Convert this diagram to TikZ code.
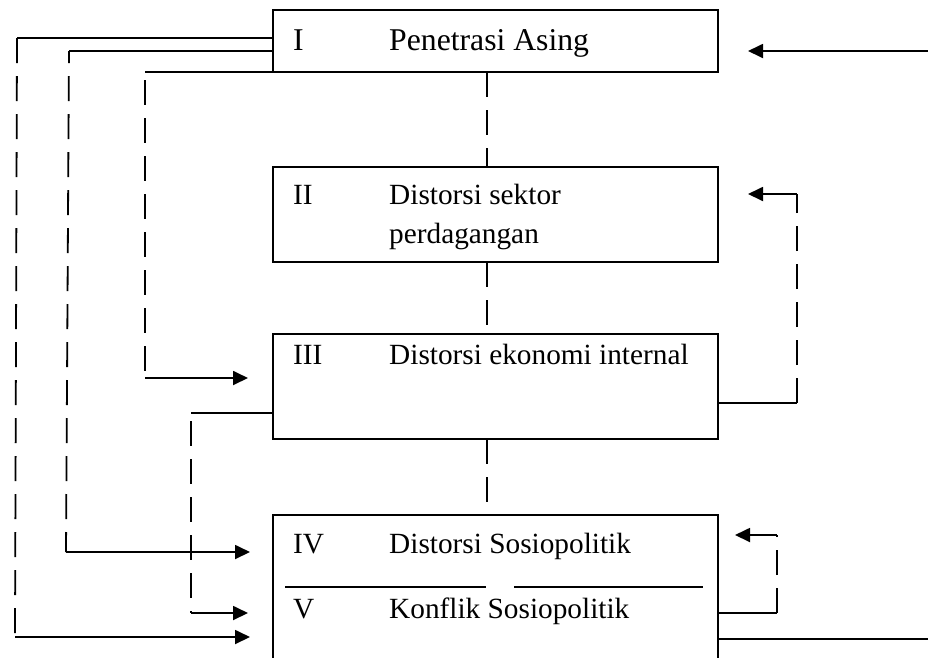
\documentclass[tikz,border=0pt]{standalone}
\usepackage{fontspec}
\setmainfont{Liberation Serif}
\usetikzlibrary{arrows.meta}
\begin{document}
\begin{tikzpicture}[x=1pt,y=-1pt,
  box/.style={draw, line width=1.6pt, anchor=north west, inner sep=0pt, outer sep=0pt, minimum width=445pt},
  lbl/.style={anchor=base west, inner sep=0pt, font=\fontsize{29.3}{35}\selectfont},
  ttl/.style={anchor=base west, inner sep=0pt, font=\fontsize{31.7}{38}\selectfont},
  ln/.style={line width=1.8pt},
  dsh/.style={line width=1.8pt, dash pattern=on 25pt off 13pt},
  arr/.style={line width=1.8pt, -{Triangle[length=15pt,width=14pt]}}]
\useasboundingbox (0,0) rectangle (928,657);
\clip (0,0) rectangle (928,657);
\fill[white] (0,0) rectangle (928,657);
% boxes
\node[box, minimum height=62pt] (b1) at (273,10) {};
\node[box, minimum height=95pt] (b2) at (273,167) {};
\node[box, minimum height=105pt] (b3) at (273,334) {};
\node[box, minimum height=170pt] (b4) at (273,515) {};
% labels
\node[ttl] (n1) at (293,50) {I};
\node[ttl] (t1) at (389,50) {Penetrasi Asing};
\node[lbl] (n2) at (293,204) {II};
\node[lbl] (t2) at (389,204) {Distorsi sektor};
\node[lbl] (t2b) at (389,243) {perdagangan};
\node[lbl] (n3) at (293,364) {III};
\node[lbl] (t3) at (389,364) {Distorsi ekonomi internal};
\node[lbl] (n4) at (293,553) {IV};
\node[lbl] (t4) at (389,553) {Distorsi Sosiopolitik};
\node[lbl] (n5) at (293,618) {V};
\node[lbl] (t5) at (389,618) {Konflik Sosiopolitik};
% separator in box IV/V
\coordinate (s1) at (285,587); \coordinate (s2) at (486,587);
\coordinate (s3) at (514,587); \coordinate (s4) at (703,587);
\draw[ln] (s1) -- (s2);
\draw[ln] (s3) -- (s4);
% central dashed connectors
\coordinate (m) at (487,0);
\draw[dsh] (m |- b1.south) -- (m |- b2.north);
\draw[dsh] (m |- b2.south) -- (m |- b3.north);
\draw[dsh] (m |- b3.south) -- (m |- b4.north);
% left line A
\coordinate (a1) at (17,38); \coordinate (a2) at (15,637); \coordinate (a3) at (250,637);
\draw[ln] (a1 -| b1.west) -- (a1);
\draw[dsh] (a1) -- (a2);
\draw[arr] (a2) -- (a3);
% left line B
\coordinate (c1) at (69,51); \coordinate (c2) at (66,552); \coordinate (c3) at (250,552);
\draw[ln] (c1 -| b1.west) -- (c1);
\draw[dsh, dash phase=13pt] (c1) -- (c2);
\draw[arr] (c2) -- (c3);
% left line C
\coordinate (d1) at (145,72); \coordinate (d2) at (145,378); \coordinate (d3) at (248,378);
\draw[ln] (d1 -| b1.west) -- (d1);
\draw[dsh, dash phase=30pt] (d1) -- (d2);
\draw[arr] (d2) -- (d3);
% left line D from box III
\coordinate (e1) at (191,413); \coordinate (e2) at (191,613); \coordinate (e3) at (248,613);
\draw[ln] (e1 -| b3.west) -- (e1);
\draw[dsh, dash phase=30pt] (e1) -- (e2);
\draw[arr] (e2) -- (e3);
% right of box III
\coordinate (f1) at (797,403); \coordinate (f2) at (797,194); \coordinate (f3) at (748,194);
\draw[ln] (f1 -| b3.east) -- (f1);
\draw[dsh] (f1) -- (f2);
\draw[arr] (f2) -- (f3);
% right of box IV/V
\coordinate (g1) at (777,613); \coordinate (g2) at (777,535); \coordinate (g3) at (735,535);
\draw[ln] (g1 -| b4.east) -- (g1);
\draw[dsh] (g1) -- (g2);
\draw[arr] (g2) -- (g3);
% bottom right exit
\coordinate (h1) at (928,639);
\draw[ln] (h1 -| b4.east) -- (h1);
% top right incoming
\coordinate (k1) at (928,51); \coordinate (k2) at (748,51);
\draw[arr] (k1) -- (k2);
\end{tikzpicture}
\end{document}
